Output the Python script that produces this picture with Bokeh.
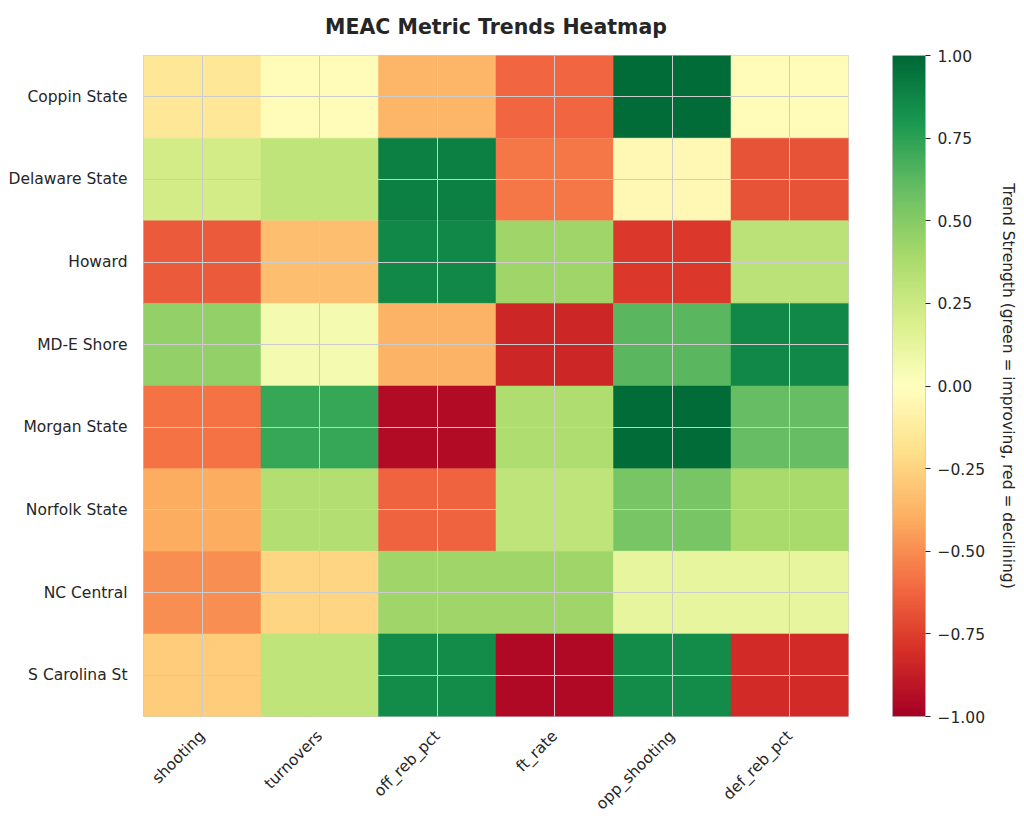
import math
import numpy as np
from bokeh.plotting import figure
from bokeh.layouts import row
from bokeh.models import (ColumnDataSource, LinearColorMapper, FixedTicker,
                          FactorRange, CustomJSTickFormatter, Range1d)
from bokeh.embed import file_html
from bokeh.resources import INLINE

teams = ["Coppin State", "Delaware State", "Howard", "MD-E Shore",
         "Morgan State", "Norfolk State", "NC Central", "S Carolina St"]
metrics = ["shooting", "turnovers", "off_reb_pct", "ft_rate", "opp_shooting", "def_reb_pct"]

coppin_state   = [-0.15, -0.03, -0.37, -0.62, 0.98, -0.03]
delaware_state = [0.22, 0.30, 0.90, -0.57, -0.04, -0.68]
howard         = [-0.66, -0.33, 0.86, 0.42, -0.77, 0.32]
md_e_shore     = [0.46, 0.06, -0.38, -0.84, 0.63, 0.86]
morgan_state   = [-0.58, 0.72, -0.95, 0.36, 0.98, 0.60]
norfolk_state  = [-0.40, 0.35, -0.63, 0.30, 0.54, 0.39]
nc_central     = [-0.50, -0.24, 0.42, 0.42, 0.12, 0.12]
s_carolina_st  = [-0.28, 0.30, 0.85, -0.96, 0.85, -0.82]

rows = [coppin_state, delaware_state, howard, md_e_shore,
        morgan_state, norfolk_state, nc_central, s_carolina_st]

cbar_ticks = [-1.0, -0.75, -0.5, -0.25, 0.0, 0.25, 0.5, 0.75, 1.0]

# matplotlib RdYlGn anchors
anchors = ["#a50026", "#d73027", "#f46d43", "#fdae61", "#fee08b", "#ffffbf",
           "#d9ef8b", "#a6d96a", "#66bd63", "#1a9850", "#006837"]

def hex2rgb(h):
    return tuple(int(h[i:i + 2], 16) for i in (1, 3, 5))

def build_palette(n=256):
    rgb = [hex2rgb(a) for a in anchors]
    out = []
    for i in range(n):
        t = i / (n - 1) * (len(rgb) - 1)
        k = min(int(t), len(rgb) - 2)
        f = t - k
        c = [round(rgb[k][j] + (rgb[k + 1][j] - rgb[k][j]) * f) for j in range(3)]
        out.append("#%02x%02x%02x" % tuple(c))
    return out

palette = build_palette()
mapper = LinearColorMapper(palette=palette, low=-1, high=1)

xs, ys, vs = [], [], []
for t, r in zip(teams, rows):
    for m, v in zip(metrics, r):
        xs.append(m)
        ys.append(t)
        vs.append(v)
src = ColumnDataSource(dict(x=xs, y=ys, v=vs))

FONT = "DejaVu Sans"
TXT = "#262626"
FS = "15.5px"
TOP = 55

def style_title(fig, text):
    fig.title.text = text
    fig.title.align = "center"
    fig.title.vertical_align = "top"
    fig.title.text_font = FONT
    fig.title.text_font_size = "20.5px"
    fig.title.text_font_style = "bold"
    fig.title.text_color = TXT
    fig.title.standoff = 29

p = figure(x_range=FactorRange(*metrics), y_range=FactorRange(*list(reversed(teams))),
           output_backend="svg", toolbar_location=None,
           frame_width=705, frame_height=661,
           min_border_left=143, min_border_top=TOP, min_border_bottom=10, min_border_right=10)
style_title(p, "MEAC Metric Trends Heatmap")

p.rect(x="x", y="y", width=1, height=1, source=src,
       fill_color={"field": "v", "transform": mapper},
       line_color={"field": "v", "transform": mapper}, line_width=0.5)

p.grid.grid_line_color = "#cccccc"
p.grid.grid_line_width = 1
p.grid.level = "overlay"
p.outline_line_color = "#cccccc"
p.outline_line_width = 1

for ax in (p.xaxis[0], p.yaxis[0]):
    ax.axis_line_color = None
    ax.major_tick_line_color = None
    ax.minor_tick_line_color = None
    ax.major_label_text_font = FONT
    ax.major_label_text_font_size = FS
    ax.major_label_text_color = TXT
p.xaxis.major_label_orientation = math.pi / 4
p.xaxis.major_label_standoff = 11
p.yaxis.major_label_standoff = 10

# colour bar as its own small figure
grad = np.linspace(-1, 1, 256).reshape(-1, 1)
cb = figure(x_range=Range1d(0, 1), y_range=Range1d(-1, 1),
            output_backend="svg", toolbar_location=None,
            frame_width=33, frame_height=661,
            min_border_left=34, min_border_top=TOP, min_border_bottom=10, min_border_right=6,
            x_axis_location=None, y_axis_location="right")
style_title(cb, " ")
cb.image(image=[grad], x=0, y=-1, dw=1, dh=2, color_mapper=mapper)
cb.grid.visible = False
cb.outline_line_color = "#cccccc"
cb.outline_line_width = 1

ya = cb.yaxis[0]
ya.ticker = FixedTicker(ticks=cbar_ticks)
ya.formatter = CustomJSTickFormatter(
    code="return (tick < 0 ? '\u2212' : '') + Math.abs(tick).toFixed(2);")
ya.axis_line_color = None
ya.major_tick_in = 0
ya.major_tick_out = 5
ya.major_tick_line_color = TXT
ya.minor_tick_line_color = None
ya.major_label_standoff = 7
ya.major_label_text_font = FONT
ya.major_label_text_font_size = FS
ya.major_label_text_color = TXT
ya.axis_label = "Trend Strength (green = improving, red = declining)"
ya.axis_label_text_font = FONT
ya.axis_label_text_font_size = FS
ya.axis_label_text_font_style = "normal"
ya.axis_label_text_color = TXT
ya.axis_label_standoff = 11

layout = row(p, cb)
open("out.html", "w").write(file_html(layout, INLINE))
